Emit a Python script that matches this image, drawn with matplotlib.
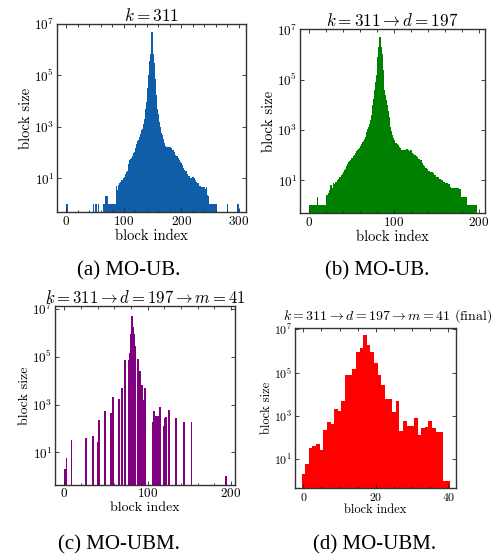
import numpy as np
import matplotlib
matplotlib.use("Agg")
import matplotlib.pyplot as plt
from matplotlib.ticker import FixedLocator, NullLocator, MultipleLocator, LogFormatterSciNotation

plt.rcParams["font.family"] = "serif"
plt.rcParams["font.serif"] = ["cmr10"]
plt.rcParams["mathtext.fontset"] = "cm"
plt.rcParams["axes.formatter.use_mathtext"] = True
plt.rcParams["axes.unicode_minus"] = False

N = None
# ---------------- panel (a): k = 311, log10(block size) per block index (None = empty)
a_log = (
    [0.0] + [N] * 45 + [0.0] + [N] * 4 + [0.0] + [N] * 3 + [0.0] + [N] * 8 +
    [0.0, 0.0, 0.0, 0.0, 0.3, 0.3, 0.3, 0.3, 0.0, N,
     0.0, 0.0, 0.0, 0.0, 0.0, 0.0, 0.0, 0.0, 0.0, 0.0, 0.0, 0.0,
     0.7, 0.35, 0.4, 0.55, 0.5, 0.75, 0.8, 0.6, 0.85, 0.9,
     0.95, 0.8, 0.95, 1.0, 1.05, 1.05, 1.1, 1.15, 1.2, 1.25,
     1.3, 1.4, 1.55, 1.65, 1.7, 1.72, 1.75, 1.78, 1.82, 1.88,
     1.92, 1.98, 2.03, 2.1, 2.18, 2.25, 2.32, 2.38, 2.44, 2.5,
     2.55, 2.6, 2.66, 2.72, 2.8, 2.86, 2.92, 3.0, 3.1, 3.2,
     3.3, 3.5, 3.7, 3.95, 4.2, 4.5, 4.75, 5.0, 5.3, 5.55,
     5.85, 6.2, 6.7, 6.2, 5.85, 5.5, 5.2, 4.85, 4.55, 4.25,
     3.95, 3.7, 3.5, 3.35, 3.2, 3.08, 2.98, 2.88, 2.78, 2.68,
     2.6, 2.52, 2.46, 2.38, 2.3, 2.25, 2.2, 2.2, 2.22, 2.2,
     2.18, 2.22, 2.2, 2.18, 2.2, 2.16, 2.15, 2.12, 2.1, 2.05,
     2.03, 1.98, 1.92, 1.9, 1.88, 1.85, 1.82, 1.78, 1.74, 1.7,
     1.68, 1.63, 1.58, 1.55, 1.5, 1.45, 1.42, 1.38, 1.34, 1.3,
     1.25, 1.2, 1.28, 1.18, 1.12, 1.06, 1.1, 0.98, 0.93, 0.9,
     1.0, 0.95, 0.9, 1.06, 0.75, 1.0, 0.85, 0.95, 0.8, 0.86,
     0.35, 0.8, 0.82, 0.78, 0.7, 0.65, 0.7, 0.6, 0.65, 0.65,
     0.6, 0.65, 0.62, 0.65, 0.6, 0.3, 0.6, 0.65, 0.35, 0.3,
     0.0, 0.0, 0.0, 0.0, 0.0, 0.0, N, 0.0, 0.0, 0.0, 0.0, 0.0, 0.0, 0.0, 0.0] +
    [N] * 18 + [0.0] + [N] * 17 + [0.0]
)

# ---------------- panel (b): d = 197
b_log = [
    0.0, 0.0, 0.0, 0.0, 0.0, 0.0, 0.0, 0.0, 0.0, 0.35,
    0.0, 0.0, 0.0, 0.0, 0.0, 0.0, 0.0, 0.0, 0.0, 0.0,
    0.42, 0.1, 0.48, 0.3, 0.6, 0.8, 0.45, 0.7, 0.9, 0.7,
    0.85, 0.95, 0.95, 1.0, 1.05, 1.1, 1.15, 1.05, 1.2, 1.25,
    1.35, 1.4, 1.3, 1.45, 1.55, 1.65, 1.72, 1.75, 1.8, 1.82,
    1.87, 1.9, 1.95, 2.0, 2.06, 2.1, 2.15, 2.2, 2.26, 2.3,
    2.35, 2.4, 2.46, 2.52, 2.58, 2.65, 2.74, 2.82, 2.92, 3.02,
    3.13, 3.25, 3.4, 3.6, 3.8, 4.0, 4.25, 4.6, 4.9, 5.2,
    5.5, 5.9, 6.3, 6.7, 6.3, 6.0, 5.4, 5.0, 4.6, 4.39,
    4.2, 3.99, 3.75, 3.53, 3.33, 3.13, 2.95, 2.8, 2.7, 2.6,
    2.55, 2.5, 2.47, 2.44, 2.4, 2.34, 2.28, 2.23, 2.2, 2.22,
    2.2, 2.2, 2.18, 2.22, 2.2, 2.23, 2.2, 2.18, 2.15, 2.2,
    2.1, 2.08, 2.05, 2.0, 2.0, 1.95, 1.9, 1.91, 1.85, 1.83,
    1.8, 1.81, 1.7, 1.65, 1.61, 1.55, 1.5, 1.48, 1.41, 1.45,
    1.35, 1.38, 1.34, 1.3, 1.32, 1.28, 1.25, 1.2, 1.22, 1.15,
    1.15, 1.1, 1.12, 1.05, 1.04, 1.0, 1.02, 0.95, 0.95, 0.92,
    0.9, 0.88, 0.88, 0.3, 0.85, 0.8, 0.75, 0.7, 0.0, 0.7,
    0.68, 0.65, 0.3, 0.68, 0.65, 0.68, 0.6, 0.65, 0.6, 0.35,
    0.35, 0.35, 0.35, 0.35, 0.3, 0.35, 0.0, 0.0, 0.0, 0.0,
    0.0, 0.0, 0.0, 0.0, 0.0, 0.0, 0.0,
]

# ---------------- panels (c)/(d): m = 41 final blocks
m_log = [0.31, 0.77, 1.52, 1.62, 1.69, 1.42, 2.34, 2.71, 2.63, 3.31,
         3.22, 3.68, 4.88, 4.88, 5.15, 5.95, 6.14, 6.72, 6.26, 5.95,
         5.45, 4.91, 4.42, 3.8, 3.8, 3.18, 3.68, 2.29, 2.75, 2.54,
         2.54, 2.91, 2.11, 2.45, 2.49, 2.77, 2.45, 2.26, 2.26, 0.0, 0.0]
# position of each final block in the d-index space (panel c)
c_pos = [0, 2, 8, 25, 34, 40, 41, 48, 55, 58,
         65, 69, 72, 77, 78, 79, 80, 81, 82, 83,
         84, 88, 90, 91, 93, 95, 96, 106, 107, 109,
         112, 114, 119, 120, 121, 125, 133, 143, 152, 193, 194]

titles = [r"$k = 311$", r"$k = 311 \rightarrow d = 197$",
          r"$k = 311 \rightarrow d = 197 \rightarrow m = 41$",
          r"$k = 311 \rightarrow d = 197 \rightarrow m = 41$ (final)"]
captions = ["(a) MO-UB.", "(b) MO-UB.", "(c) MO-UBM.", "(d) MO-UBM."]
colors = ["#105ea8", "#008000", "#800080", "#ff0000"]

W, H = 497, 554
fig = plt.figure(figsize=(W / 100, H / 100), dpi=100)


def box(l, t, r, b):
    return [l / W, 1 - b / H, (r - l) / W, (b - t) / H]


def to_xy(vals, pos=None):
    xs, ys = [], []
    for i, v in enumerate(vals):
        if v is None:
            continue
        xs.append(i if pos is None else pos[i])
        ys.append(10 ** v)
    return np.array(xs), np.array(ys)


def style(ax, xlim, ylog, xmajor, xminor, tfs, lfs):
    ax.set_yscale("log")
    ax.set_xlim(*xlim)
    ax.set_ylim(10 ** ylog[0], 10 ** ylog[1])
    ax.yaxis.set_major_locator(FixedLocator([1e1, 1e3, 1e5, 1e7]))
    ax.yaxis.set_major_formatter(LogFormatterSciNotation())
    ax.yaxis.set_minor_locator(NullLocator())
    ax.xaxis.set_major_locator(MultipleLocator(xmajor))
    ax.xaxis.set_minor_locator(MultipleLocator(xminor))
    ax.tick_params(which="both", direction="in", top=True, right=True,
                   labelsize=tfs, width=0.6, colors="#222222", labelcolor="black")
    ax.tick_params(which="major", length=3, pad=2)
    ax.tick_params(which="minor", length=1.8)
    for s in ax.spines.values():
        s.set_linewidth(1.0)
        s.set_color("#333333")
    ax.set_xlabel("block index", fontsize=lfs, labelpad=1)
    ax.set_ylabel("block size", fontsize=lfs, labelpad=1)


thin = dict(width=1.0, linewidth=0.5, antialiased=False, snap=True)

# (a)
axA = fig.add_axes(box(57, 24, 246, 212))
x, y = to_xy(a_log)
axA.bar(x, y, color=colors[0], edgecolor=colors[0], **thin)
style(axA, (-16.2, 312.2), (-0.31, 7.0), 100, 20, 9.5, 10.5)
axA.set_title(titles[0], fontsize=12.5, pad=2)

# (b)
axB = fig.add_axes(box(300, 29.3, 485.3, 213.3))
x, y = to_xy(b_log)
axB.bar(x, y, color=colors[1], edgecolor=colors[1], **thin)
style(axB, (-11.0, 207.8), (-0.31, 7.0), 100, 20, 9.5, 10.5)
axB.set_title(titles[1], fontsize=12.3, pad=2)

# (c)
axC = fig.add_axes(box(55, 306, 234.7, 484.7))
x, y = to_xy(m_log, c_pos)
axC.bar(x, y, color=colors[2], edgecolor=colors[2], **thin)
style(axC, (-11.2, 204.5), (-0.35, 7.12), 100, 20, 9.5, 10)
axC.set_title(titles[2], fontsize=12, pad=1)

# (d)
axD = fig.add_axes(box(295, 328.3, 456.3, 488))
x, y = to_xy(m_log)
axD.bar(x, y, width=1.0, color=colors[3], linewidth=0)
style(axD, (-2.3, 42.2), (-0.34, 7.05), 20, 5, 8.5, 9)
axD.text(0.573, 1.0 + 3 / 160, titles[3], transform=axD.transAxes,
         ha="center", va="bottom", fontsize=10)

# captions
cap_pos = [(129, 271), (377, 271), (119, 545), (375, 545)]
for (cx, cy), c in zip(cap_pos, captions):
    fig.text(cx / W, 1 - cy / H, c, ha="center", va="center", fontsize=15,
             family="Liberation Serif")

fig.savefig("out.png", dpi=100)
